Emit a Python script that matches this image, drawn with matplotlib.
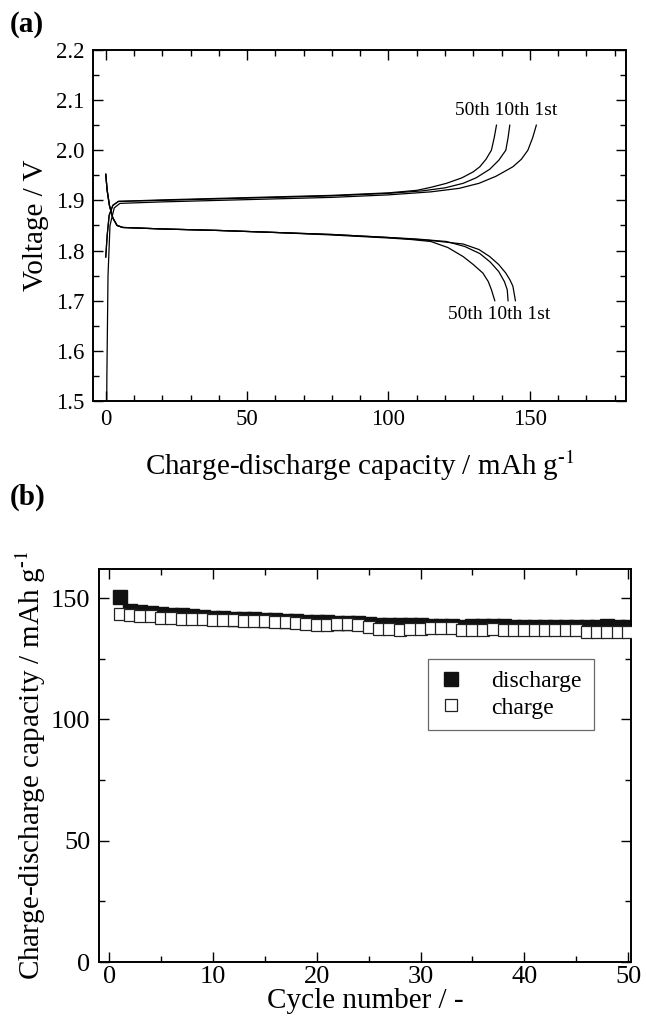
"""
Charge-discharge curves (a) and cycle performance (b)
"""

import matplotlib
matplotlib.use('Agg')
import matplotlib.pyplot as plt
from matplotlib.ticker import MultipleLocator

plt.rcParams['font.family'] = ['Liberation Serif', 'DejaVu Serif']
plt.rcParams['mathtext.fontset'] = 'stix'

# ---- (a) voltage profiles ----
charge_1st_cap = [0.3, 0.4, 0.8, 1.5, 3, 5, 20, 40, 60, 80, 100, 115, 125, 132,
                  138, 144, 147, 149.3, 151, 152.3]
charge_1st_v = [1.45, 1.55, 1.75, 1.85, 1.885, 1.894, 1.897, 1.900, 1.903, 1.906,
                1.911, 1.917, 1.924, 1.934, 1.948, 1.967, 1.982, 2.0, 2.025, 2.05]

charge_10th_cap = [0, 0.5, 1.2, 2.5, 4.5, 20, 40, 60, 80, 100, 112, 120, 126.4,
                   131, 135.8, 139, 141.5, 142.3, 142.9]
charge_10th_v = [1.787, 1.83, 1.87, 1.89, 1.898, 1.900, 1.903, 1.906, 1.909, 1.914,
                 1.919, 1.925, 1.934, 1.945, 1.962, 1.98, 2.0, 2.025, 2.05]

charge_50th_cap = [0, 0.5, 1.2, 2.5, 4.5, 20, 40, 60, 80, 100, 110, 115, 120.5,
                   126, 130, 132.3, 134.5, 136.4, 137.4, 138.2]
charge_50th_v = [1.787, 1.83, 1.87, 1.89, 1.898, 1.901, 1.904, 1.907, 1.910, 1.915,
                 1.920, 1.926, 1.934, 1.945, 1.957, 1.967, 1.982, 2.0, 2.025, 2.05]

dis_1st_cap = [0, 0.5, 1.3, 2.5, 4, 6, 20, 40, 60, 80, 100, 115, 126.4, 132,
               135.8, 139, 141.5, 143, 144, 144.9]
dis_1st_v = [1.952, 1.92, 1.89, 1.865, 1.85, 1.846, 1.843, 1.840, 1.836, 1.832,
             1.826, 1.820, 1.813, 1.802, 1.788, 1.772, 1.755, 1.741, 1.729, 1.70]

dis_10th_cap = [0, 0.5, 1.3, 2.5, 4, 6, 20, 40, 60, 80, 100, 110, 120.5, 127,
                132.3, 136, 139, 141, 142, 142.3]
dis_10th_v = [1.952, 1.92, 1.89, 1.865, 1.85, 1.846, 1.843, 1.840, 1.836, 1.832,
              1.826, 1.823, 1.818, 1.808, 1.794, 1.777, 1.758, 1.738, 1.722, 1.70]

dis_50th_cap = [0, 0.5, 1.3, 2.5, 4, 6, 20, 40, 60, 80, 100, 108, 115, 121,
                126.4, 130, 133.4, 135.3, 136.4, 137.6]
dis_50th_v = [1.952, 1.92, 1.89, 1.865, 1.85, 1.846, 1.843, 1.840, 1.836, 1.831,
              1.825, 1.822, 1.818, 1.806, 1.788, 1.772, 1.755, 1.738, 1.722, 1.70]

cycle_labels = '50th 10th 1st'

# ---- (b) cycle performance ----
cycles = list(range(1, 51))
discharge_cap = [150.6, 144.8, 144.4, 144.0, 143.6, 143.2, 142.9, 142.6, 142.3, 142.0,
                 141.8, 141.6, 141.4, 141.2, 141.0, 140.8, 140.6, 140.4, 140.3, 140.2,
                 140.0, 139.9, 139.8, 139.6, 139.3, 138.9, 138.8, 138.8, 139.0, 138.8,
                 138.6, 138.5, 138.5, 138.3, 138.4, 138.6, 138.7, 138.4, 138.2, 138.3,
                 138.2, 138.1, 138.2, 138.0, 138.0, 138.1, 138.3, 138.4, 138.3, 137.9]
charge_cap = [143.3, 143.0, 142.7, 142.5, 141.9, 141.7, 141.6, 141.4, 141.2, 141.0,
              140.9, 140.8, 140.6, 140.5, 140.4, 140.2, 140.0, 139.9, 139.4, 139.0,
              138.8, 139.3, 139.2, 139.0, 137.9, 137.3, 137.3, 136.8, 137.2, 137.2,
              137.6, 137.5, 137.5, 136.8, 136.8, 136.8, 137.2, 136.8, 136.7, 136.8,
              136.8, 137.0, 136.8, 136.7, 136.7, 136.0, 136.0, 136.1, 136.0, 135.9]

unit_label = 'Charge-discharge capacity / mAh g$^{\\mathregular{\u2010}1}$'


def style_axes(ax, fs):
    """Ticks inside on all four sides"""
    ax.tick_params(which='both', direction='in', top=True, right=True,
                   labelsize=fs, width=1.0, pad=6)
    ax.tick_params(which='major', length=7)
    ax.tick_params(which='minor', length=4)
    for sp in ax.spines.values():
        sp.set_linewidth(1.4)


fig = plt.figure(figsize=(6.46, 10.19), dpi=100)

# (a)
ax1 = fig.add_axes([0.144, 0.6065, 0.825, 0.3445])
curves = [(charge_1st_cap, charge_1st_v), (charge_10th_cap, charge_10th_v),
          (charge_50th_cap, charge_50th_v), (dis_1st_cap, dis_1st_v),
          (dis_10th_cap, dis_10th_v), (dis_50th_cap, dis_50th_v)]
for cap, v in curves:
    ax1.plot(cap, v, color='black', linewidth=0.9)
ax1.set_xlim(-4.5, 184)
ax1.set_ylim(1.5, 2.2)
ax1.xaxis.set_major_locator(MultipleLocator(50))
ax1.xaxis.set_minor_locator(MultipleLocator(10))
ax1.yaxis.set_major_locator(MultipleLocator(0.1))
ax1.yaxis.set_minor_locator(MultipleLocator(0.05))
ax1.yaxis.set_major_formatter(plt.FormatStrFormatter('%.1f'))
style_axes(ax1, 16.5)
ax1.set_xlabel(unit_label, fontsize=21, labelpad=13)
ax1.set_ylabel('Voltage / V', fontsize=21, labelpad=5)
ax1.text(141.6, 2.08, cycle_labels, fontsize=14, ha='center', va='center')
ax1.text(139.3, 1.672, cycle_labels, fontsize=14, ha='center', va='center')
fig.text(0.015, 0.976, '(a)', fontsize=21, fontweight='bold', va='center')

# (b)
ax2 = fig.add_axes([0.153, 0.0559, 0.824, 0.3857])
ax2.plot(cycles, discharge_cap, 's', color='black', markersize=10,
         markerfacecolor='#111111', markeredgecolor='#111111', label='discharge', zorder=2)
ax2.plot(cycles, charge_cap, 's', markersize=9.3, markerfacecolor='white',
         markeredgecolor='#222222', markeredgewidth=0.9, label='charge', zorder=3)
ax2.set_xlim(-1, 50.3)
ax2.set_ylim(0, 162)
ax2.xaxis.set_major_locator(MultipleLocator(10))
ax2.xaxis.set_minor_locator(MultipleLocator(5))
ax2.yaxis.set_major_locator(MultipleLocator(50))
ax2.yaxis.set_minor_locator(MultipleLocator(25))
style_axes(ax2, 19)
ax2.tick_params(axis='x', pad=3)
ax2.set_xlabel('Cycle number / -', fontsize=21, labelpad=0)
ax2.set_ylabel(unit_label, fontsize=21, labelpad=2)
leg = ax2.legend(loc='upper left', bbox_to_anchor=(0.618, 0.771), fontsize=17,
                 frameon=True, fancybox=False, borderaxespad=0, handletextpad=1.2,
                 handlelength=1.0, borderpad=0.5, labelspacing=0.2)
leg.get_frame().set_edgecolor('#444444')
leg.get_frame().set_linewidth(0.9)
fig.text(0.015, 0.512, '(b)', fontsize=21, fontweight='bold', va='center')

plt.savefig('out.png', dpi=100)
plt.close()
